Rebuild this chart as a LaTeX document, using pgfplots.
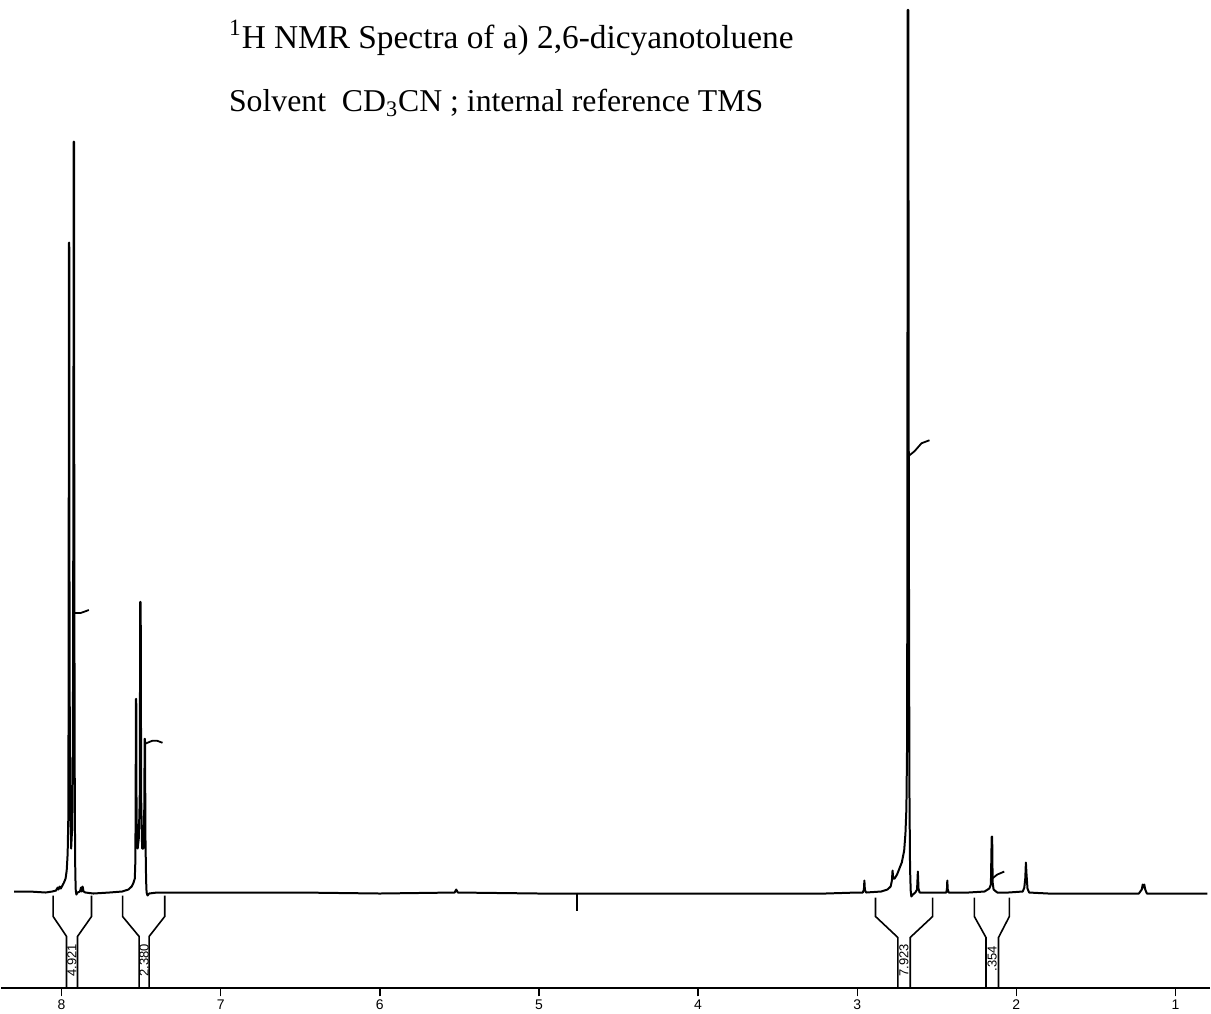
\documentclass[border=0pt]{standalone}
\usepackage{pgfplots}
\pgfplotsset{compat=1.18}
\usepackage{fontspec}
\setmainfont{Liberation Serif}
\newfontfamily\plotterfont{Liberation Sans}

\begin{document}
\begin{tikzpicture}
\begin{axis}[
  scale only axis,
  width=605.5pt, height=495pt,
  x dir=reverse,
  xmin=0.783, xmax=8.381,
  ymin=0, ymax=990,
  axis x line=bottom, axis y line=none,
  axis line style={line width=1pt, -},
  xtick={1,...,8},
  tick align=outside,
  major tick length=4pt,
  tick style={line width=0.7pt, black},
  xticklabel style={font=\plotterfont\fontsize{7}{7}\selectfont, inner sep=1.5pt},
  /pgf/number format/assume math mode=true,
  clip=false,
]
% keep the page as large as the whole chart sheet
\path (axis cs:8.381,-25) rectangle (axis cs:0.783,990);

% spectrum, heights in units above the scale line
\addplot[black, line width=1pt, line join=round] coordinates {
  (8.299,97)(8.20,97)(8.10,96)(8.06,97)(8.035,98)(8.025,101)(8.02,99)
  (8.012,102)(8.005,100)(7.995,103)(7.985,106)(7.975,110)(7.968,118)
  (7.962,135)(7.958,170)(7.956,300)(7.954,747)(7.952,747)(7.950,320)
  (7.946,190)(7.940,140)(7.934,160)(7.929,250)(7.926,500)(7.924,848)
  (7.922,848)(7.920,400)(7.917,180)(7.914,115)(7.911,98)(7.907,94)
  (7.900,96)(7.885,97)(7.878,101)(7.874,97)(7.868,102)(7.862,97)
  (7.85,96)(7.80,95)(7.70,96)
  (7.62,97)(7.58,99)(7.56,102)(7.55,105)(7.54,110)(7.537,125)(7.535,170)
  (7.533,290)(7.531,290)(7.529,170)(7.522,140)(7.515,150)(7.509,190)
  (7.506,387)(7.503,387)(7.500,190)(7.494,140)(7.487,140)(7.481,170)
  (7.478,250)(7.476,250)(7.473,150)(7.469,108)(7.466,96)(7.460,93)
  (7.45,95)(7.40,96)
  (7.2,96)(6.5,96)(6.0,95)(5.53,96)(5.52,99)(5.51,96)(5.0,95)(4.5,95)
  (4.0,95)(3.5,95)(3.2,95)(3.0,96)
  (2.965,96)(2.958,99)(2.955,108)(2.952,99)(2.945,96)(2.85,97)(2.81,99)
  (2.79,102)(2.782,108)(2.778,118)(2.774,110)(2.765,110)(2.75,114)
  (2.735,120)(2.72,126)(2.705,138)(2.697,155)(2.691,180)(2.687,240)
  (2.685,400)(2.683,980)(2.679,980)(2.676,500)(2.672,200)(2.668,120)
  (2.664,98)(2.660,92)(2.65,94)(2.635,96)(2.624,99)(2.619,117)(2.615,100)
  (2.608,96)(2.55,96)(2.44,96)(2.436,100)(2.434,108)(2.431,99)(2.425,96)
  (2.30,96)(2.2,97)(2.17,100)(2.160,104)(2.155,152)(2.152,152)(2.149,106)
  (2.143,99)(2.12,96)(2.05,96)(1.96,97)(1.950,101)(1.944,110)(1.940,126)
  (1.936,114)(1.930,100)(1.92,96)(1.80,95)(1.50,95)(1.23,95)(1.212,99)
  (1.206,104)(1.201,101)(1.196,104)(1.190,99)(1.18,95)(1.0,95)(0.80,95)
};

% integral steps
\addplot[black, line width=0.9pt] coordinates {(7.922,376)(7.88,376)(7.845,378)(7.829,379)};
\addplot[black, line width=0.9pt] coordinates {(7.476,245)(7.43,248)(7.40,248)(7.366,246)};
\addplot[black, line width=0.9pt] coordinates {(2.679,533)(2.640,538)(2.596,546)(2.546,549)};
\addplot[black, line width=0.9pt] coordinates {(2.152,110)(2.120,114)(2.076,117)};

% reference mark
\addplot[black, line width=0.8pt] coordinates {(4.761,96)(4.761,77)};

% integration brackets
\addplot[black, line width=0.8pt] coordinates {(8.053,93)(8.053,72)(7.969,52)(7.969,0)};
\addplot[black, line width=0.8pt] coordinates {(7.812,93)(7.812,72)(7.900,52)(7.900,0)};
\addplot[black, line width=0.8pt] coordinates {(7.617,93)(7.617,72)(7.513,52)(7.513,0)};
\addplot[black, line width=0.8pt] coordinates {(7.352,93)(7.352,72)(7.450,52)(7.450,0)};
\addplot[black, line width=0.8pt] coordinates {(2.885,91)(2.885,72)(2.745,51)(2.745,0)};
\addplot[black, line width=0.8pt] coordinates {(2.526,91)(2.526,72)(2.667,51)(2.667,0)};
\addplot[black, line width=0.8pt] coordinates {(2.264,91)(2.264,72)(2.191,51)(2.191,0)};
\addplot[black, line width=0.8pt] coordinates {(2.044,91)(2.044,72)(2.112,51)(2.112,0)};

\node[rotate=90, font=\plotterfont\fontsize{6.5}{6.5}\selectfont, inner sep=0pt] at (axis cs:7.9345,28) {4.921};
\node[rotate=90, font=\plotterfont\fontsize{6.5}{6.5}\selectfont, inner sep=0pt] at (axis cs:7.4815,28) {2.380};
\node[rotate=90, font=\plotterfont\fontsize{6.5}{6.5}\selectfont, inner sep=0pt] at (axis cs:2.706,28) {7.923};
\node[rotate=90, font=\plotterfont\fontsize{6.5}{6.5}\selectfont, inner sep=0pt] at (axis cs:2.1515,30) {.354};

% caption lines
\node[anchor=west, inner sep=0pt, font=\fontsize{16.7}{19}\selectfont] at (axis cs:6.95,952)
  {\textsuperscript{1}H NMR Spectra of a) 2,6-dicyanotoluene};
\node[anchor=west, inner sep=0pt, font=\fontsize{15.9}{19}\selectfont] at (axis cs:6.95,887)
  {Solvent~~CD\textsubscript{3}CN ; internal reference TMS};
\end{axis}
\end{tikzpicture}
\end{document}
